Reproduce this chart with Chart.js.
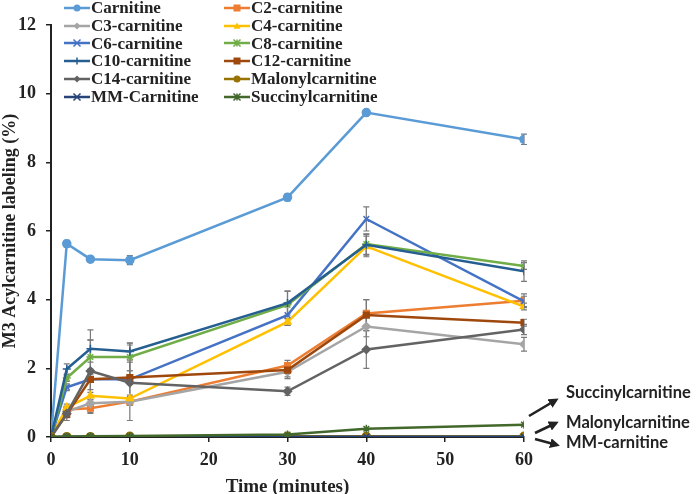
<!DOCTYPE html>
<html>
<head>
<meta charset="utf-8">
<script src="https://cdn.jsdelivr.net/npm/chart.js@4/dist/chart.umd.min.js"></script>
<style>
  body { margin: 0; background: #fff; }
  #wrap { position: relative; width: 696px; height: 494px; }
  #legend {
    position: absolute; left: 64px; top: -1px;
    display: grid; grid-template-columns: 160px 200px;
    font: bold 17px "Liberation Serif", "Times New Roman", serif;
    line-height: 17.8px; color: #222;
  }
  #legend .item { display: flex; align-items: center; white-space: nowrap; }
  #legend canvas { margin-right: 1px; }
  .note {
    position: absolute; font: bold 16.5px Lato, "Liberation Sans", sans-serif; color: #222;
  }
  #arrows { position: absolute; left: 0; top: 0; pointer-events: none; }
</style>
</head>
<body>
<div id="wrap">
  <canvas id="chart" width="696" height="494"></canvas>
  <div id="legend"></div>
  <div class="note" style="left:566px; top:382px;">Succinylcarnitine</div>
  <div class="note" style="left:566px; top:412px;">Malonylcarnitine</div>
  <div class="note" style="left:566px; top:432px;">MM-carnitine</div>
  <svg id="arrows" width="696" height="494">
    <defs>
      <marker id="ah" markerWidth="10" markerHeight="10" refX="7" refY="5" orient="auto" markerUnits="userSpaceOnUse">
        <path d="M0,0 L10,5 L0,10 Z" fill="#222"/>
      </marker>
    </defs>
    <line x1="529" y1="416" x2="556" y2="400" stroke="#222" stroke-width="2.6" marker-end="url(#ah)"/>
    <line x1="535" y1="433" x2="556" y2="423" stroke="#222" stroke-width="2.6" marker-end="url(#ah)"/>
    <line x1="535" y1="439" x2="557" y2="445" stroke="#222" stroke-width="2.6" marker-end="url(#ah)"/>
  </svg>
</div>
<script>
const times = [0, 2, 5, 10, 30, 40, 60];

const names = ['Carnitine', 'C2-carnitine', 'C3-carnitine', 'C4-carnitine', 'C6-carnitine', 'C8-carnitine',
  'C10-carnitine', 'C12-carnitine', 'C14-carnitine', 'Malonylcarnitine', 'MM-Carnitine', 'Succinylcarnitine'];

const carnitine   = [0, 5.63, 5.18, 5.15, 6.98, 9.45, 8.67];
const c2          = [0, 0.80, 0.84, 1.03, 2.08, 3.60, 3.97];
const c3          = [0, 0.74, 0.98, 1.03, 1.90, 3.22, 2.70];
const c4          = [0, 0.86, 1.20, 1.12, 3.35, 5.55, 3.80];
const c6          = [0, 1.45, 1.68, 1.68, 3.55, 6.35, 3.95];
const c8          = [0, 1.72, 2.33, 2.33, 3.85, 5.62, 4.98];
const c10         = [0, 1.98, 2.57, 2.49, 3.90, 5.60, 4.83];
const c12         = [0, 0.66, 1.68, 1.73, 1.95, 3.55, 3.33];
const c14         = [0, 0.68, 1.92, 1.58, 1.33, 2.55, 3.13];
const malonyl     = [0, 0.01, 0.01, 0.02, 0.02, 0.02, 0.02];
const mm          = [0, 0.01, 0.01, 0.01, 0.01, 0.01, 0.01];
const succinyl    = [0, 0.01, 0.02, 0.03, 0.07, 0.24, 0.36];

// standard deviations for the error bars
const carnitineErr = [0, 0.10, 0.05, 0.13, 0.10, 0.05, 0.15];
const c2Err        = [0, 0.10, 0.15, 0.10, 0.15, 0.40, 0.20];
const c3Err        = [0, 0.05, 0.10, 0.10, 0.20, 0.30, 0.20];
const c4Err        = [0, 0.10, 0.10, 0.10, 0.10, 0.30, 0.10];
const c6Err        = [0, 0.10, 0.50, 0.50, 0.30, 0.35, 0.15];
const c8Err        = [0, 0.10, 0.50, 0.40, 0.40, 0.30, 0.10];
const c10Err       = [0, 0.15, 0.25, 0.25, 0.35, 0.30, 0.30];
const c12Err       = [0, 0.10, 0.30, 0.20, 0.20, 0.45, 0.10];
const c14Err       = [0, 0.20, 1.20, 1.10, 0.12, 0.55, 0.15];
const zeroErr      = [0, 0, 0, 0, 0, 0, 0];

const series = [carnitine, c2, c3, c4, c6, c8, c10, c12, c14, malonyl, mm, succinyl];
const errors = [carnitineErr, c2Err, c3Err, c4Err, c6Err, c8Err, c10Err, c12Err, c14Err, zeroErr, zeroErr, zeroErr];
const colors = ['#5B9BD5', '#ED7D31', '#A5A5A5', '#FFC000', '#4472C4', '#70AD47',
  '#255E91', '#9E480E', '#636363', '#997300', '#264478', '#43682B'];
const markers = ['circle', 'rect', 'rectRot', 'triangle', 'crossRot', 'star',
  'cross', 'rect', 'rectRot', 'circle', 'crossRot', 'star'];

const datasets = series.map((vals, i) => ({
  label: names[i],
  data: times.map((t, k) => ({ x: t, y: vals[k] })),
  borderColor: colors[i],
  backgroundColor: colors[i],
  borderWidth: 2.5,
  pointStyle: markers[i],
  pointRadius: 4,
  pointBorderWidth: 1.5,
  tension: 0,
  order: -i
}));

// error bars drawn with the library's scales
const errorBars = {
  id: 'errorBars',
  beforeDatasetsDraw(chart) {
    const ctx = chart.ctx;
    const xs = chart.scales.x, ys = chart.scales.y;
    ctx.save();
    ctx.lineWidth = 1.2;
    errors.forEach((errs, i) => {
      ctx.strokeStyle = i === 0 ? '#6d7f91' : '#7a7a7a';
      errs.forEach((e, k) => {
        if (!e) return;
        const x = xs.getPixelForValue(times[k]);
        const top = ys.getPixelForValue(series[i][k] + e);
        const bot = ys.getPixelForValue(series[i][k] - e);
        ctx.beginPath();
        ctx.moveTo(x, top); ctx.lineTo(x, bot);
        ctx.moveTo(x - 3, top); ctx.lineTo(x + 3, top);
        ctx.moveTo(x - 3, bot); ctx.lineTo(x + 3, bot);
        ctx.stroke();
      });
    });
    ctx.restore();
  }
};

const font = { family: '"Liberation Serif", "Times New Roman", serif', weight: 'bold', size: 17 };

new Chart(document.getElementById('chart'), {
  type: 'line',
  data: { datasets },
  options: {
    responsive: false,
    animation: false,
    layout: { padding: { top: 25, right: 172, left: 0, bottom: 0 } },
    plugins: { legend: { display: false }, tooltip: { enabled: false } },
    scales: {
      x: {
        type: 'linear', min: 0, max: 60,
        ticks: { stepSize: 10, color: '#222', font: { ...font, size: 18 }, padding: 8 },
        grid: { drawOnChartArea: false, drawTicks: true, tickLength: 5, color: '#222', lineWidth: 1.5 },
        border: { color: '#222', width: 2 },
        title: { display: true, text: 'Time (minutes)', color: '#222', font: { ...font, size: 19 }, padding: { top: 4, bottom: -4 } },
        afterFit(scale) { scale.height = 57; }
      },
      y: {
        min: 0, max: 12,
        ticks: { stepSize: 2, color: '#222', font: { ...font, size: 18 }, padding: 10 },
        grid: { drawOnChartArea: false, drawTicks: true, tickLength: 5, color: '#222', lineWidth: 1.5 },
        border: { color: '#222', width: 2 },
        title: { display: true, text: 'M3 Acylcarnitine labeling (%)', color: '#222', font: { ...font, size: 18 }, padding: 0 },
        afterFit(scale) { scale.width = 51; }
      }
    }
  },
  plugins: [errorBars]
});

// legend: two columns of line + marker swatches
function drawMarker(ctx, style, x, y, r, color) {
  ctx.fillStyle = color; ctx.strokeStyle = color; ctx.lineWidth = 1.5;
  ctx.beginPath();
  if (style === 'circle') { ctx.arc(x, y, r, 0, Math.PI * 2); ctx.fill(); }
  else if (style === 'rect') { ctx.fillRect(x - r, y - r, 2 * r, 2 * r); }
  else if (style === 'rectRot') { ctx.moveTo(x, y - r); ctx.lineTo(x + r, y); ctx.lineTo(x, y + r); ctx.lineTo(x - r, y); ctx.closePath(); ctx.fill(); }
  else if (style === 'triangle') { ctx.moveTo(x, y - r); ctx.lineTo(x + r, y + r * 0.8); ctx.lineTo(x - r, y + r * 0.8); ctx.closePath(); ctx.fill(); }
  else if (style === 'crossRot') { ctx.moveTo(x - r, y - r); ctx.lineTo(x + r, y + r); ctx.moveTo(x + r, y - r); ctx.lineTo(x - r, y + r); ctx.stroke(); }
  else if (style === 'cross') { ctx.moveTo(x, y - r); ctx.lineTo(x, y + r); ctx.stroke(); }
  else if (style === 'star') { ctx.moveTo(x - r, y - r); ctx.lineTo(x + r, y + r); ctx.moveTo(x + r, y - r); ctx.lineTo(x - r, y + r); ctx.moveTo(x, y - r); ctx.lineTo(x, y + r); ctx.stroke(); }
}

const legend = document.getElementById('legend');
names.forEach((name, i) => {
  const item = document.createElement('div');
  item.className = 'item';
  const sw = document.createElement('canvas');
  sw.width = 26; sw.height = 12;
  const sctx = sw.getContext('2d');
  sctx.strokeStyle = colors[i]; sctx.lineWidth = 2.5;
  sctx.beginPath(); sctx.moveTo(0, 6); sctx.lineTo(26, 6); sctx.stroke();
  drawMarker(sctx, markers[i], 13, 6, 3.5, colors[i]);
  const label = document.createElement('span');
  label.textContent = name;
  item.appendChild(sw); item.appendChild(label);
  legend.appendChild(item);
});
</script>
</body>
</html>
